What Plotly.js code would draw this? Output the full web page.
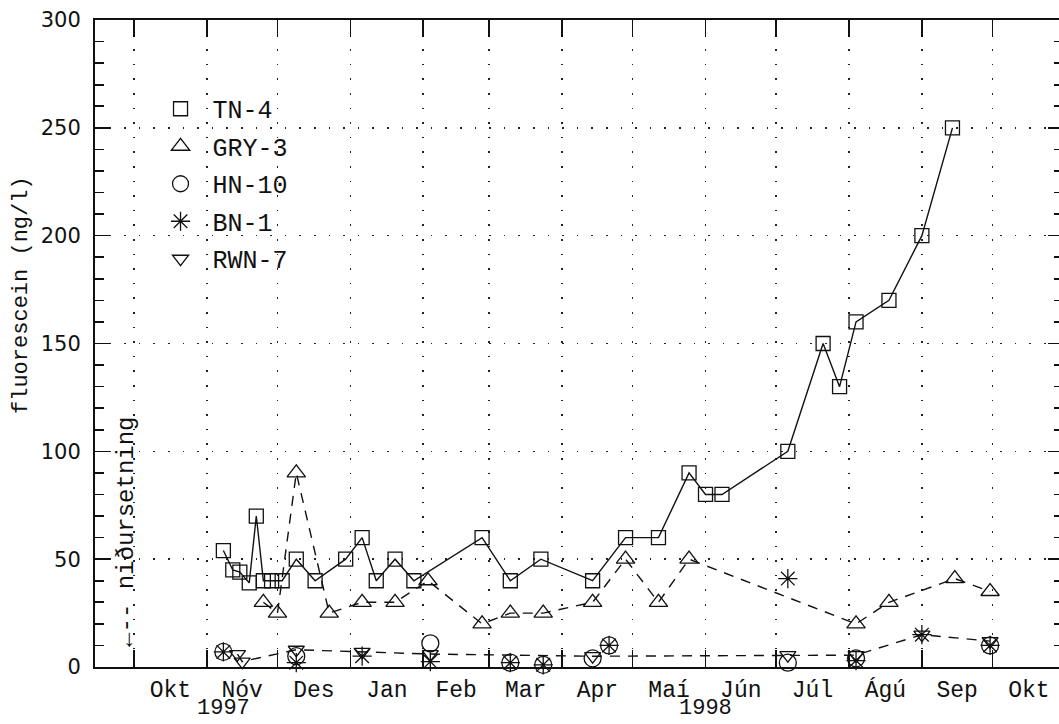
<!DOCTYPE html>
<html><head><meta charset="utf-8">
<script src="https://cdn.plot.ly/plotly-3.0.1.min.js"></script>
<style>
html,body{margin:0;padding:0;overflow:hidden;background:#fff;width:1059px;height:724px}
#wrap{width:1059px;height:724px;overflow:hidden;position:relative}
#chart{width:1066px;height:724px}
</style>
</head><body><div id="wrap"><div id="chart"></div></div>
<script>
// ---- axis labels ----
const monthTickDates = ['1997-10-16 12:00','1997-11-16','1997-12-16 12:00','1998-01-16 12:00','1998-02-15','1998-03-16 12:00','1998-04-16','1998-05-16 12:00','1998-06-16','1998-07-16 12:00','1998-08-16 12:00','1998-09-16','1998-10-16 12:00'];
const monthLabels = ['Okt','Nóv','Des','Jan','Feb','Mar','Apr','Maí','Jún','Júl','Ágú','Sep','Okt'];
const seriesNames = ['TN-4','GRY-3','HN-10','BN-1','RWN-7'];

// ---- TN-4 ----
const tn4Dates = ['1997-11-08','1997-11-12','1997-11-15','1997-11-19','1997-11-22','1997-11-25','1997-11-28 12:00','1997-12-03','1997-12-09','1997-12-17','1997-12-30','1998-01-06','1998-01-12','1998-01-20','1998-01-28','1998-02-26','1998-03-10','1998-03-23','1998-04-14','1998-04-28','1998-05-12','1998-05-25','1998-06-01','1998-06-08','1998-07-06','1998-07-21','1998-07-28','1998-08-04','1998-08-18','1998-09-01','1998-09-14'];
const tn4Values = [54,45,44,39,70,40,40,40,50,40,50,60,40,50,40,60,40,50,40,60,60,90,80,80,100,150,130,160,170,200,250];

// ---- GRY-3 ----
const gry3Dates = ['1997-11-25','1997-12-01','1997-12-09','1997-12-23','1998-01-06','1998-01-20','1998-02-03','1998-02-26','1998-03-10','1998-03-24','1998-04-14','1998-04-28','1998-05-12','1998-05-25','1998-08-04','1998-08-18','1998-09-15','1998-09-30'];
const gry3Values = [30,25,90,25,30,30,40,20,25,25,30,50,30,50,20,30,41,35];

// ---- HN-10 ----
const hn10Dates = ['1997-11-08','1997-12-09','1998-02-04','1998-03-10','1998-03-24','1998-04-14','1998-04-21','1998-07-06','1998-08-04','1998-09-30'];
const hn10Values = [7,5,11,2,1,4,10,2,4,10];

// ---- BN-1 ----
const bn1Dates = ['1997-11-08','1997-12-09','1998-01-06','1998-02-04','1998-03-10','1998-03-24','1998-04-21','1998-07-06','1998-08-04','1998-09-01','1998-09-30'];
const bn1Values = [7,2,5,2.5,2,1,10,41,3,15,10];

// ---- RWN-7 ----
const rwn7Dates = ['1997-11-14','1997-11-16','1997-12-09','1998-01-06','1998-02-04','1998-04-14','1998-07-06','1998-08-04','1998-09-01','1998-09-30'];
const rwn7Values = [6,2.5,8,7,6,5,5.5,5.5,15,12];

const INK = '#111';
const gridStyle = {gridcolor:'#222', gridwidth:1.6, griddash:'1.6px,13px'};

function lineTrace(x, y, dash){
  return {type:'scatter', x:x, y:y, mode:'lines', showlegend:false, hoverinfo:'skip', cliponaxis:false,
          line:{color:INK, width:1.4, dash:dash}};
}
function markerTrace(name, x, y, symbol, size){
  return {type:'scatter', name:name, x:x, y:y, mode:'markers', cliponaxis:false, legendgroup:name,
          marker:{symbol:symbol, size:size, color:INK, line:{color:INK, width:1.3}}};
}

const traces = [
  lineTrace(tn4Dates, tn4Values, 'solid'),
  lineTrace(gry3Dates, gry3Values, '10px,8px'),
  lineTrace(rwn7Dates, rwn7Values, '10px,8px'),
  markerTrace(seriesNames[0], tn4Dates, tn4Values, 'square-open', 14),
  markerTrace(seriesNames[1], gry3Dates, gry3Values, 'triangle-up-open', 16),
  markerTrace(seriesNames[2], hn10Dates, hn10Values, 'circle-open', 17),
  markerTrace(seriesNames[3], bn1Dates, bn1Values, 'asterisk-open', 16),
  markerTrace(seriesNames[4], rwn7Dates, rwn7Values, 'triangle-down-open', 14)
];

const layout = {
  width:1066, height:724, autosize:false,
  margin:{l:95, r:3, t:20, b:57, pad:0},
  paper_bgcolor:'#fff', plot_bgcolor:'#fff',
  showlegend:true,
  legend:{
    x:0.0553, y:0.898, xanchor:'left', yanchor:'top',
    bgcolor:'rgba(0,0,0,0)', borderwidth:0,
    font:{family:'Liberation Mono', size:25, color:INK},
    itemwidth:54, tracegroupgap:2, traceorder:'grouped', itemclick:false
  },
  xaxis:{
    type:'date', range:['1997-09-14 10:00','1998-10-31'],
    tickmode:'array', tickvals:monthTickDates, ticktext:monthLabels,
    ticks:'', showgrid:false, zeroline:false,
    showline:true, linewidth:2, linecolor:INK, mirror:'ticks',
    tickfont:{family:'Liberation Mono', size:23, color:INK},
    minor:Object.assign({dtick:'M1', tick0:'1997-10-01', ticks:'inside', ticklen:17, tickwidth:1.6, tickcolor:INK, showgrid:true}, gridStyle)
  },
  yaxis:{
    range:[0,300], tick0:0, dtick:50, ticks:'inside', ticklen:15, tickwidth:1.6, tickcolor:INK,
    showgrid:true, gridcolor:gridStyle.gridcolor, gridwidth:gridStyle.gridwidth, griddash:gridStyle.griddash,
    zeroline:false, showline:true, linewidth:2, linecolor:INK, mirror:'ticks',
    tickfont:{family:'DejaVu Sans', size:21, color:INK}, ticklabelstandoff:8,
    minor:{dtick:10, ticks:'inside', ticklen:9, tickwidth:1.6, tickcolor:INK, showgrid:false}
  },
  annotations:[
    {text:'fluorescein (ng/l)', xref:'paper', yref:'paper', x:-0.0754, y:0.575, textangle:-90,
     showarrow:false, xanchor:'center', yanchor:'middle', font:{family:'Liberation Mono', size:22, color:INK}},
    {text:'←-- niðursetning', xref:'x', yref:'paper', x:'1997-09-28', y:0.2087, textangle:-90,
     showarrow:false, xanchor:'center', yanchor:'middle', font:{family:'Liberation Mono', size:24, color:INK}},
    {text:'1997', xref:'x', yref:'paper', x:'1997-11-08', y:-0.087, showarrow:false,
     xanchor:'center', yanchor:'bottom', font:{family:'Liberation Mono', size:22, color:INK}},
    {text:'1998', xref:'x', yref:'paper', x:'1998-06-01', y:-0.087, showarrow:false,
     xanchor:'center', yanchor:'bottom', font:{family:'Liberation Mono', size:22, color:INK}}
  ]
};

Plotly.newPlot('chart', traces, layout, {displayModeBar:false, staticPlot:true});
</script>
</body></html>
